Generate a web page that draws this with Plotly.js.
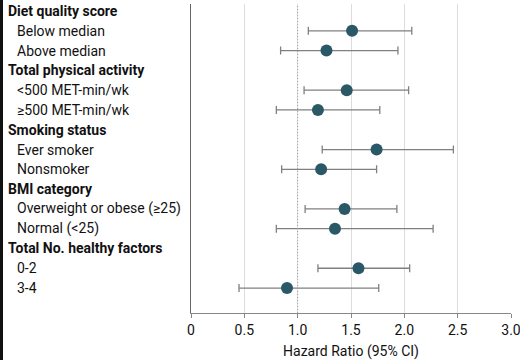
<!DOCTYPE html>
<html>
<head>
<meta charset="utf-8">
<script src="https://cdn.plot.ly/plotly-3.0.1.min.js"></script>
<style>html,body{margin:0;padding:0;background:#fff;}#chart{width:520px;height:360px;}</style>
</head>
<body>
<div id="chart"></div>
<script>
var rows = ["Diet quality score","Below median","Above median","Total physical activity","<500 MET-min/wk","\u2265500 MET-min/wk","Smoking status","Ever smoker","Nonsmoker","BMI category","Overweight or obese (\u226525)","Normal (<25)","Total No. healthy factors","0-2","3-4"];
var isHeader = [true,false,false,true,false,false,true,false,false,true,false,false,true,false,false];
var hr    = [null,1.51,1.27,null,1.46,1.19,null,1.74,1.22,null,1.44,1.35,null,1.57,0.90];
var lower = [null,1.10,0.84,null,1.06,0.80,null,1.23,0.85,null,1.07,0.80,null,1.19,0.45];
var upper = [null,2.07,1.94,null,2.04,1.77,null,2.46,1.74,null,1.93,2.27,null,2.05,1.76];
var tickVals = [0,0.5,1,1.5,2,2.5,3];
var tickText = ["0","0.5","1.0","1.5","2.0","2.5","3.0"];
var xTitle = "Hazard Ratio (95% CI)";

var FONT = "Roboto, 'Open Sans', sans-serif";
var plotW = 320, plotH = 309, ml = 191;

var plus = hr.map(function(v,i){return v==null?null:upper[i]-v;});
var minus = hr.map(function(v,i){return v==null?null:v-lower[i];});

var trace = {
  type:'scatter', mode:'markers',
  x: hr, y: rows,
  marker:{color:'#2b5866', size:12},
  error_x:{type:'data', symmetric:false, array:plus, arrayminus:minus, color:'#808080', thickness:1.3, width:4},
  hoverinfo:'skip', showlegend:false
};

var annotations = rows.map(function(r,i){
  return {
    xref:'paper', yref:'y', x: isHeader[i] ? (6-ml)/plotW : (15-ml)/plotW, y: r,
    xanchor:'left', yanchor:'middle', showarrow:false, text: isHeader[i] ? '<b>'+r+'</b>' : r,
    font:{family:FONT, size:14, color:'#111'}
  };
});

var layout = {
  width:520, height:360,
  margin:{l:ml, r:9, t:4, b:47},
  paper_bgcolor:'#fff', plot_bgcolor:'#fff',
  font:{family:FONT, size:14, color:'#111'},
  xaxis:{range:[0,3], tickvals:tickVals, ticktext:tickText, showgrid:true, gridcolor:'#dcdcdc', gridwidth:1,
    zeroline:false, showline:true, linecolor:'#888', linewidth:1, ticks:'outside', ticklen:4, tickcolor:'#888',
    ticklabeloverflow:'allow',
    tickfont:{family:FONT, size:14, color:'#111'},
    title:{text:xTitle, font:{family:FONT, size:14, color:'#111'}}},
  yaxis:{type:'category', categoryorder:'array', categoryarray:rows, range:[15.26,-0.354],
    showticklabels:false, showgrid:false, zeroline:false, showline:true, linecolor:'#666', linewidth:1, ticks:''},
  shapes:[
    {type:'line', xref:'x', yref:'paper', x0:1, x1:1, y0:0, y1:1, line:{color:'#a0a0a0', width:1, dash:'1px,2px'}},
    {type:'rect', xref:'paper', yref:'paper', x0:-ml/plotW, x1:(3-ml)/plotW, y0:-47/plotH, y1:1+4/plotH, fillcolor:'#111', line:{width:0}}
  ],
  annotations:annotations
};

Plotly.newPlot('chart',[trace],layout,{displayModeBar:false, staticPlot:true});
</script>
</body>
</html>
